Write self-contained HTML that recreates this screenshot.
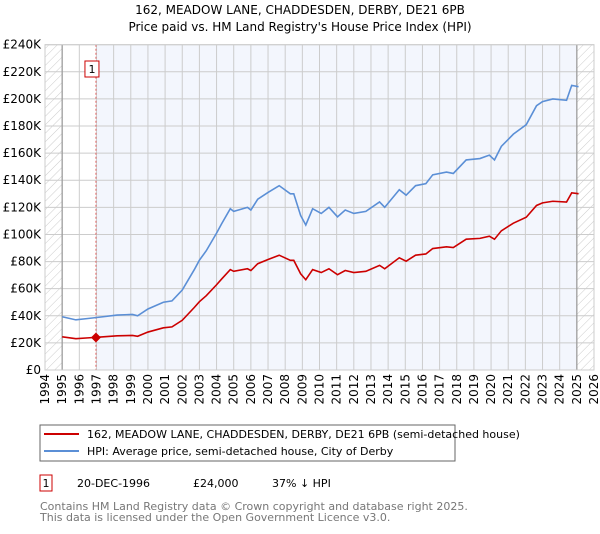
<!DOCTYPE html>
<html><head><meta charset="utf-8"><style>
body{margin:0;background:#fff;width:600px;height:530px;overflow:hidden;font-family:"DejaVu Sans","Liberation Sans",sans-serif}
svg text{font-family:"DejaVu Sans","Liberation Sans",sans-serif}
</style></head><body>
<svg id="c" width="600" height="530">
<defs><pattern id="hatch" width="6" height="6" patternUnits="userSpaceOnUse" patternTransform="rotate(45)"><line x1="0" y1="0" x2="0" y2="6" stroke="#ccc" stroke-width="1"/></pattern></defs>
<text x="300" y="14" text-anchor="middle" font-size="12">162, MEADOW LANE, CHADDESDEN, DERBY, DE21 6PB</text>
<text x="300" y="31" text-anchor="middle" font-size="12">Price paid vs. HM Land Registry's House Price Index (HPI)</text>
<g id="plot"></g>
<rect x="40" y="425" width="415" height="36" fill="#fff" stroke="#666"/>
<line x1="44" y1="434" x2="79" y2="434" stroke="#cc0000" stroke-width="2"/>
<text x="87" y="438" font-size="11">162, MEADOW LANE, CHADDESDEN, DERBY, DE21 6PB (semi-detached house)</text>
<line x1="44" y1="451" x2="79" y2="451" stroke="#5b8fd6" stroke-width="2"/>
<text x="87" y="455" font-size="11">HPI: Average price, semi-detached house, City of Derby</text>
<rect x="40" y="475" width="12" height="16" fill="#fff" stroke="#cc0000"/>
<text x="46" y="487" text-anchor="middle" font-size="11">1</text>
<text x="77" y="487" font-size="11">20-DEC-1996</text>
<text x="193" y="487" font-size="11">£24,000</text>
<text x="272" y="487" font-size="11">37% ↓ HPI</text>
<text x="40" y="510" font-size="11" fill="#777">Contains HM Land Registry data © Crown copyright and database right 2025.</text>
<text x="40" y="521" font-size="11" fill="#777">This data is licensed under the Open Government Licence v3.0.</text>
</svg>
<script>
const hpiYears=[1995,1995.8,1996.5,1997.2,1998.2,1999.1,1999.4,2000,2000.9,2001.4,2002,2002.7,2003,2003.4,2004,2004.3,2004.8,2005,2005.8,2006,2006.4,2007,2007.65,2008.3,2008.5,2008.9,2009.2,2009.6,2010.1,2010.55,2011.05,2011.5,2012,2012.7,2013.5,2013.8,2014.65,2015.05,2015.6,2016.2,2016.6,2017.4,2017.8,2018.55,2019.35,2019.9,2020.2,2020.6,2021.3,2022.05,2022.65,2023,2023.6,2024.4,2024.7,2025.1];
const hpiValues=[39.3,37,38,39,40.5,41,40,45,50,51,59,74,81,88,101,108,119,117,120,118,126,131,136,130,130,114,107,119,115.5,120,113,118,115.5,117,124,120,133,129,136,137.5,144,146,145,155,156,158.5,155,165,174,181,195,198,200,199,210,209];
const priceValues=[24.5,23.1,23.7,24.3,25.2,25.5,24.9,28,31.1,31.8,36.7,46.1,50.4,54.8,62.9,67.2,74.1,72.8,74.7,73.4,78.4,81.5,84.7,80.9,80.9,71,66.6,74.1,71.9,74.7,70.3,73.4,71.9,72.8,77.2,74.7,82.8,80.3,84.7,85.6,89.6,90.9,90.3,96.5,97.1,98.7,96.5,102.7,108.3,112.7,121.4,123.3,124.5,123.9,130.7,130.1];
const yTicks=[0,20,40,60,80,100,120,140,160,180,200,220,240];
const xTicks=[1994,1995,1996,1997,1998,1999,2000,2001,2002,2003,2004,2005,2006,2007,2008,2009,2010,2011,2012,2013,2014,2015,2016,2017,2018,2019,2020,2021,2022,2023,2024,2025,2026];
const saleYear=1996.97, salePrice=24;
const L=45,R=594,T=44.7,B=370;
const X=y=>L+(y-1994)/32*(R-L);
const Y=v=>B-v/240*(B-T);
const g=document.getElementById('plot');
const NS='http://www.w3.org/2000/svg';
function mk(t,a){const e=document.createElementNS(NS,t);for(const k in a)e.setAttribute(k,a[k]);g.appendChild(e);return e;}
let e;
e=mk('rect',{x:L,y:T,width:R-L,height:B-T,fill:'#fff'});


e=mk('rect',{x:X(saleYear),y:T,width:X(2025)-X(saleYear),height:B-T,fill:'#f3f6fd'});


e=mk('rect',{x:L,y:T,width:X(1995)-L,height:B-T,fill:'url(#hatch)'});


e=mk('rect',{x:X(2025),y:T,width:R-X(2025),height:B-T,fill:'url(#hatch)'});


yTicks.forEach(v=>{
 e=mk('line',{x1:L,x2:R,y1:Y(v),y2:Y(v),stroke:'#ccc','stroke-width':1});
 
 
 e=mk('text',{x:L-4,y:Y(v)+4,'text-anchor':'end','font-size':12});
 e.textContent=v===0?'£0':'£'+v+'K';
 
 
});
xTicks.forEach(yr=>{
 e=mk('line',{x1:X(yr),x2:X(yr),y1:T,y2:B,stroke:'#ccc','stroke-width':1});
 
 
 e=mk('text',{x:0,y:0,'text-anchor':'end','font-size':12,transform:`translate(${X(yr)+4},${B+4}) rotate(-90)`});
 e.textContent=yr;
 
 
});
[1995,2025].forEach(yr=>{
 e=mk('line',{x1:X(yr),x2:X(yr),y1:T,y2:B,stroke:'#999','stroke-width':1.2});
 
 
});
e=mk('line',{x1:X(saleYear),x2:X(saleYear),y1:T,y2:B,stroke:'#e06060','stroke-width':1,'stroke-dasharray':'2,2'});


e=mk('polyline',{points:hpiYears.map((y,i)=>X(y)+','+Y(hpiValues[i])).join(' '),fill:'none',stroke:'#5b8fd6','stroke-width':1.6});


e=mk('polyline',{points:hpiYears.map((y,i)=>X(y)+','+Y(priceValues[i])).join(' '),fill:'none',stroke:'#cc0000','stroke-width':1.6});


e=mk('path',{d:`M${X(saleYear)} ${Y(salePrice)-5} l5 5 l-5 5 l-5 -5z`,fill:'#cc0000'});


e=mk('rect',{x:X(saleYear)-11,y:61,width:14,height:16,fill:'#fff',stroke:'#cc0000'});


e=mk('text',{x:X(saleYear)-4,y:73,'text-anchor':'middle','font-size':11});
e.textContent='1';


e=mk('rect',{x:L,y:T,width:R-L,height:B-T,fill:'none',stroke:'#ccc'});


</script>
</body></html>
